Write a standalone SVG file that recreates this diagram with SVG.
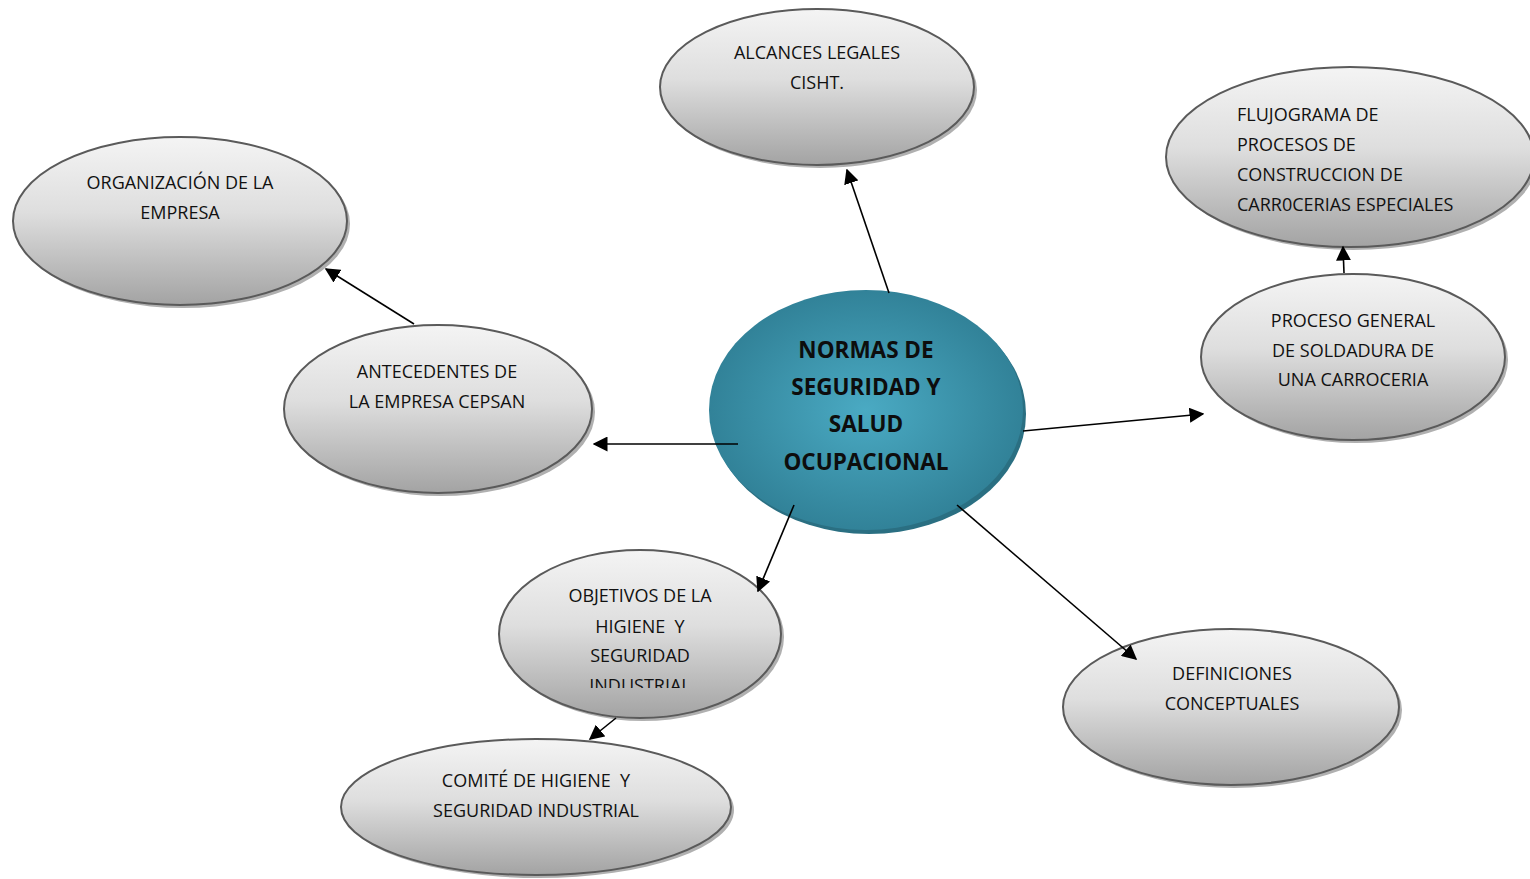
<svg xmlns="http://www.w3.org/2000/svg" width="1530" height="879" viewBox="0 0 1530 879">
  <defs>
    <linearGradient id="grayFill" x1="0" y1="0" x2="0" y2="1">
      <stop offset="0" stop-color="#f4f4f4"/>
      <stop offset="0.45" stop-color="#dedede"/>
      <stop offset="1" stop-color="#a3a3a3"/>
    </linearGradient>
    <radialGradient id="tealFill" cx="0.5" cy="0.5" r="0.55">
      <stop offset="0" stop-color="#4aaac3"/>
      <stop offset="1" stop-color="#2f7e94"/>
    </radialGradient>
    <marker id="arrowBig" viewBox="0 0 10 10" refX="9" refY="5" markerWidth="15" markerHeight="15" markerUnits="userSpaceOnUse" orient="auto">
      <path d="M0,0 L10,5 L0,10 z" fill="#000"/>
    </marker>
    <clipPath id="objClip">
      <rect x="490" y="540" width="300" height="148"/>
    </clipPath>
  </defs>
  <style>
    .node { fill: url(#grayFill); stroke: #5a5a5a; stroke-width: 2; }
    .shadow { fill: #b0b0b0; }
    .lbl { font-family: "Open Sans", "Liberation Sans", sans-serif; font-size: 18px; fill: #111; text-anchor: middle; white-space: pre; }
    .left { text-anchor: start; }
    .main { font-family: "Open Sans", "Liberation Sans", sans-serif; font-size: 22.5px; font-weight: bold; fill: #0d0d0d; text-anchor: middle; }
    .conn { stroke: #000; stroke-width: 1.6; fill: none; }
  </style>
  <rect width="1530" height="879" fill="#fff"/>

  <g id="alcances">
    <ellipse class="shadow" cx="820" cy="90" rx="157" ry="78"/>
    <ellipse class="node" cx="817" cy="87" rx="157" ry="78"/>
    <text class="lbl" x="817" y="59">ALCANCES LEGALES</text>
    <text class="lbl" x="817" y="89">CISHT.</text>
  </g>

  <g id="organizacion">
    <ellipse class="shadow" cx="183" cy="224" rx="167" ry="84"/>
    <ellipse class="node" cx="180" cy="221" rx="167" ry="84"/>
    <text class="lbl" x="180" y="189">ORGANIZACIÓN DE LA</text>
    <text class="lbl" x="180" y="219">EMPRESA</text>
  </g>

  <g id="flujograma">
    <ellipse class="shadow" cx="1353" cy="160" rx="184" ry="90"/>
    <ellipse class="node" cx="1350" cy="157" rx="184" ry="90"/>
    <text class="lbl left" x="1237" y="121">FLUJOGRAMA DE</text>
    <text class="lbl left" x="1237" y="151">PROCESOS DE</text>
    <text class="lbl left" x="1237" y="181">CONSTRUCCION DE</text>
    <text class="lbl left" x="1237" y="211">CARR0CERIAS ESPECIALES</text>
  </g>

  <g id="proceso">
    <ellipse class="shadow" cx="1356" cy="360" rx="152" ry="83"/>
    <ellipse class="node" cx="1353" cy="357" rx="152" ry="83"/>
    <text class="lbl" x="1353" y="327">PROCESO GENERAL</text>
    <text class="lbl" x="1353" y="357">DE SOLDADURA DE</text>
    <text class="lbl" x="1353" y="386">UNA CARROCERIA</text>
  </g>

  <g id="antecedentes">
    <ellipse class="shadow" cx="441" cy="412" rx="154" ry="84"/>
    <ellipse class="node" cx="438" cy="409" rx="154" ry="84"/>
    <text class="lbl" x="437" y="378">ANTECEDENTES DE</text>
    <text class="lbl" x="437" y="408">LA EMPRESA CEPSAN</text>
  </g>

  <g id="normas">
    <ellipse cx="869" cy="414" rx="157" ry="120" fill="#2a6f82"/>
    <ellipse cx="866" cy="410" rx="157" ry="120" fill="url(#tealFill)"/>
    <text class="main" x="866" y="358">NORMAS DE</text>
    <text class="main" x="866" y="395">SEGURIDAD Y</text>
    <text class="main" x="866" y="432">SALUD</text>
    <text class="main" x="866" y="470">OCUPACIONAL</text>
  </g>

  <g id="objetivos">
    <ellipse class="shadow" cx="643" cy="637" rx="141" ry="84"/>
    <ellipse class="node" cx="640" cy="634" rx="141" ry="84"/>
    <g clip-path="url(#objClip)">
      <text class="lbl" x="640" y="602">OBJETIVOS DE LA</text>
      <text class="lbl" x="640" y="633">HIGIENE  Y</text>
      <text class="lbl" x="640" y="662">SEGURIDAD</text>
      <text class="lbl" x="640" y="692">INDUSTRIAL</text>
    </g>
  </g>

  <g id="comite">
    <ellipse class="shadow" cx="539" cy="810" rx="195" ry="68"/>
    <ellipse class="node" cx="536" cy="807" rx="195" ry="68"/>
    <text class="lbl" x="536" y="787">COMITÉ DE HIGIENE  Y</text>
    <text class="lbl" x="536" y="817">SEGURIDAD INDUSTRIAL</text>
  </g>

  <g id="definiciones">
    <ellipse class="shadow" cx="1234" cy="710" rx="168" ry="78"/>
    <ellipse class="node" cx="1231" cy="707" rx="168" ry="78"/>
    <text class="lbl" x="1232" y="680">DEFINICIONES</text>
    <text class="lbl" x="1232" y="710">CONCEPTUALES</text>
  </g>

  <!-- connectors drawn over the shapes -->
  <g id="connectors">
    <line class="conn" x1="889" y1="293" x2="847" y2="170" marker-end="url(#arrowBig)"/>
    <line class="conn" x1="414" y1="324" x2="326" y2="269" marker-end="url(#arrowBig)"/>
    <line class="conn" x1="738" y1="444" x2="594" y2="444" marker-end="url(#arrowBig)"/>
    <line class="conn" x1="1023" y1="431" x2="1203" y2="414" marker-end="url(#arrowBig)"/>
    <line class="conn" x1="1344" y1="273" x2="1343" y2="247" marker-end="url(#arrowBig)"/>
    <line class="conn" x1="794" y1="505" x2="758" y2="591" marker-end="url(#arrowBig)"/>
    <line class="conn" x1="957" y1="505" x2="1136" y2="659" marker-end="url(#arrowBig)"/>
    <line class="conn" x1="616" y1="718" x2="590" y2="739" marker-end="url(#arrowBig)"/>
  </g>
</svg>
